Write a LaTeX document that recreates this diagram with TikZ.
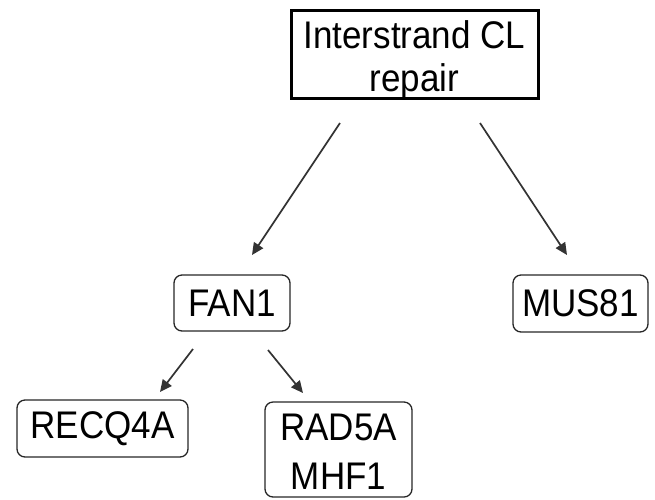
\documentclass[tikz,border=0pt]{standalone}
\usepackage{fontspec}
\setmainfont{Liberation Sans}
\usetikzlibrary{arrows.meta}
\newcommand{\tall}[1]{\scalebox{1}[1.1]{#1}}
\begin{document}
\begin{tikzpicture}[x=1pt,y=-1pt,
  txt/.style={inner sep=0pt,font=\fontsize{35}{37}\selectfont,align=center},
  box/.style={txt,draw=black!85,line width=1.3pt,rounded corners=8pt,rectangle},
  topbox/.style={draw=black,line width=3pt,rectangle,inner sep=0pt},
  arr/.style={draw=black!80,line width=1.7pt,-{Triangle[length=12pt,width=11pt]}}]
\useasboundingbox (0,0) rectangle (655,499);
\node[topbox,minimum width=247pt,minimum height=88pt] (top) at (414.5,54) {};
\node[txt] (toptext) at (414.5,62)
  {\tall{\begin{tabular}{@{}c@{}}Interstrand CL\\[2pt]repair\end{tabular}}};
\node[box,minimum width=116pt,minimum height=56pt] (fan) at (232,303) {\tall{FAN1}};
\node[box,minimum width=135pt,minimum height=57pt] (mus) at (580.5,303.5) {\tall{MUS81}};
\node[box,minimum width=171pt,minimum height=57pt] (recq) at (102.5,428.5) {\tall{RECQ4A}};
\node[box,minimum width=147pt,minimum height=95pt] (rad) at (338.5,449.5) {};
\node[txt] (radtext) at (338.5,457)
  {\tall{\begin{tabular}{@{}c@{}}RAD5A\\[8pt]MHF1\end{tabular}}};
\coordinate (a1s) at (340,123); \coordinate (a1e) at (252,255);
\coordinate (a2s) at (480,123); \coordinate (a2e) at (567,255);
\coordinate (a3s) at (193,349); \coordinate (a3e) at (160,392);
\coordinate (a4s) at (268,350); \coordinate (a4e) at (303,393);
\draw[arr] (a1s) -- (a1e);
\draw[arr] (a2s) -- (a2e);
\draw[arr] (a3s) -- (a3e);
\draw[arr] (a4s) -- (a4e);
\end{tikzpicture}
\end{document}
